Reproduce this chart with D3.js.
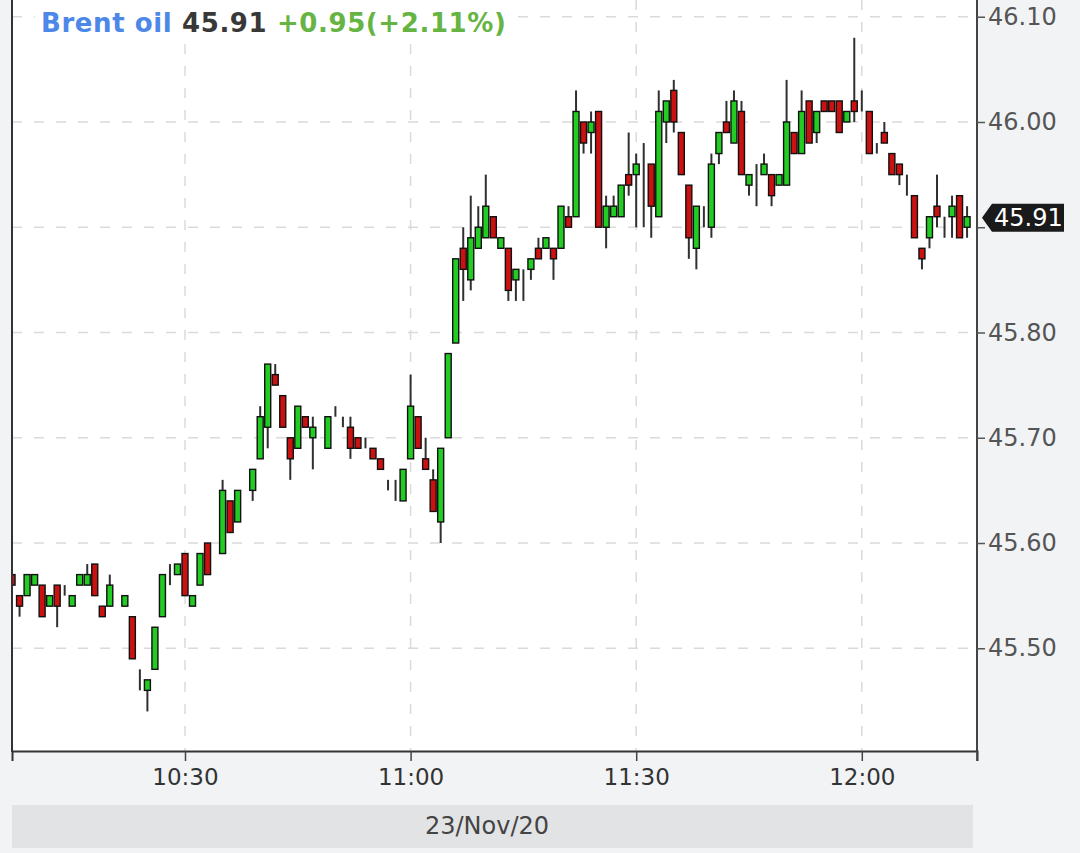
<!DOCTYPE html>
<html><head><meta charset="utf-8">
<script src="https://cdn.jsdelivr.net/npm/d3@7"></script>
<style>
html,body{margin:0;padding:0;background:#f2f3f5;}
svg{display:block;font-family:"DejaVu Sans",sans-serif;}
</style></head><body>
<svg id="chart" width="1080" height="853"></svg>
<script>
const times = ["10:07","10:08","10:09","10:10","10:11","10:12","10:13","10:14","10:15","10:16","10:17","10:18","10:19","10:20","10:21","10:22","10:23","10:24","10:25","10:26","10:27","10:28","10:29",
"10:30","10:31","10:32","10:33","10:34","10:35","10:36","10:37","10:38","10:39","10:40","10:41","10:42","10:43","10:44","10:45","10:46","10:47","10:48","10:49","10:50","10:51","10:52","10:53","10:54","10:55","10:56","10:57","10:58","10:59",
"11:00","11:01","11:02","11:03","11:04","11:05","11:06","11:07","11:08","11:09","11:10","11:11","11:12","11:13","11:14","11:15","11:16","11:17","11:18","11:19","11:20","11:21","11:22","11:23","11:24","11:25","11:26","11:27","11:28","11:29",
"11:30","11:31","11:32","11:33","11:34","11:35","11:36","11:37","11:38","11:39","11:40","11:41","11:42","11:43","11:44","11:45","11:46","11:47","11:48","11:49","11:50","11:51","11:52","11:53","11:54","11:55","11:56","11:57","11:58","11:59",
"12:00","12:01","12:02","12:03","12:04","12:05","12:06","12:07","12:08","12:09","12:10","12:11","12:12","12:13","12:14"];
const open = [45.57,45.55,45.55,45.56,45.56,45.54,45.56,45.55,45.54,45.56,45.56,45.58,45.54,45.54,45.55,45.54,45.53,45.48,45.46,45.48,45.53,45.56,45.57,
45.59,45.54,45.56,45.60,45.58,45.59,45.64,45.62,45.64,45.65,45.68,45.71,45.76,45.74,45.70,45.69,45.72,45.70,45.70,45.69,45.73,45.72,45.71,45.70,45.70,45.69,45.68,45.66,45.65,45.64,
45.68,45.72,45.68,45.66,45.62,45.70,45.79,45.88,45.85,45.88,45.89,45.91,45.88,45.88,45.85,45.85,45.86,45.88,45.88,45.88,45.88,45.91,45.91,46.00,45.99,46.01,45.90,45.91,45.91,45.95,
45.95,45.95,45.96,45.91,46.00,46.03,45.99,45.94,45.88,45.91,45.90,45.97,46.00,45.98,46.01,45.94,45.94,45.95,45.95,45.94,45.94,45.99,45.97,46.02,45.99,46.02,46.02,46.02,46.00,46.02,
46.02,46.01,45.98,45.99,45.97,45.96,45.94,45.93,45.88,45.89,45.92,45.90,45.91,45.93,45.90];
const high = [45.57,45.55,45.57,45.57,45.56,45.55,45.56,45.56,45.55,45.57,45.58,45.58,45.54,45.57,45.55,45.55,45.53,45.48,45.47,45.52,45.57,45.58,45.58,
45.59,45.55,45.59,45.60,45.58,45.66,45.64,45.65,45.64,45.67,45.73,45.77,45.77,45.74,45.70,45.73,45.72,45.72,45.70,45.72,45.73,45.72,45.72,45.70,45.70,45.69,45.68,45.66,45.66,45.67,
45.76,45.72,45.70,45.67,45.69,45.78,45.87,45.90,45.93,45.92,45.95,45.91,45.89,45.88,45.86,45.86,45.87,45.89,45.89,45.88,45.92,45.92,46.03,46.00,46.01,46.01,45.93,45.93,45.94,45.99,
45.97,45.98,45.96,46.03,46.02,46.04,45.99,45.94,45.92,45.92,45.97,45.99,46.02,46.03,46.02,45.95,45.96,45.97,45.95,45.95,46.04,45.99,46.03,46.02,46.01,46.02,46.02,46.02,46.01,46.08,
46.03,46.01,45.98,46.00,45.97,45.96,45.95,45.93,45.88,45.91,45.95,45.91,45.93,45.93,45.92];
const low = [45.56,45.53,45.55,45.56,45.53,45.54,45.52,45.55,45.54,45.56,45.56,45.55,45.53,45.54,45.55,45.54,45.49,45.46,45.44,45.48,45.53,45.56,45.57,
45.55,45.54,45.56,45.57,45.58,45.59,45.61,45.62,45.64,45.64,45.68,45.69,45.75,45.71,45.66,45.69,45.71,45.67,45.70,45.69,45.72,45.71,45.68,45.69,45.69,45.68,45.67,45.65,45.64,45.64,
45.68,45.69,45.67,45.63,45.60,45.70,45.79,45.83,45.84,45.88,45.89,45.89,45.88,45.83,45.83,45.83,45.85,45.87,45.88,45.85,45.88,45.90,45.91,45.97,45.97,45.90,45.88,45.91,45.91,45.93,
45.90,45.90,45.89,45.91,45.98,45.99,45.95,45.87,45.86,45.90,45.89,45.96,45.99,45.98,45.95,45.93,45.92,45.95,45.92,45.94,45.94,45.97,45.97,45.98,45.98,46.01,46.01,45.99,46.00,46.00,
46.01,45.97,45.97,45.98,45.95,45.94,45.93,45.89,45.86,45.88,45.90,45.89,45.89,45.89,45.89];
const close = [45.56,45.54,45.57,45.57,45.53,45.55,45.54,45.55,45.55,45.57,45.57,45.55,45.53,45.56,45.55,45.55,45.49,45.48,45.47,45.52,45.57,45.56,45.58,
45.55,45.55,45.59,45.57,45.58,45.65,45.61,45.65,45.64,45.67,45.72,45.77,45.75,45.71,45.68,45.73,45.71,45.71,45.70,45.72,45.73,45.72,45.69,45.69,45.70,45.68,45.67,45.66,45.65,45.67,
45.73,45.69,45.67,45.63,45.69,45.78,45.87,45.86,45.89,45.90,45.92,45.89,45.89,45.84,45.86,45.85,45.87,45.87,45.89,45.87,45.92,45.90,46.01,45.98,46.00,45.90,45.92,45.92,45.94,45.94,
45.96,45.95,45.92,46.01,46.02,46.00,45.95,45.89,45.92,45.91,45.96,45.99,45.99,46.02,45.95,45.95,45.94,45.96,45.93,45.95,46.00,45.97,46.01,45.98,46.01,46.01,46.01,45.99,46.01,46.01,
46.02,45.97,45.98,45.98,45.95,45.95,45.94,45.89,45.87,45.91,45.91,45.90,45.92,45.89,45.91];

const yTicks = [45.50, 45.60, 45.70, 45.80, 45.90, 46.00, 46.10];
const xTicks = ["10:30", "11:00", "11:30", "12:00"];
const dateLabel = "23/Nov/20";
const titleName = "Brent oil";
const titlePrice = "45.91";
const titleChange = "+0.95(+2.11%)";
const lastPrice = 45.91;

const parse = d3.timeParse("%H:%M");
const candles = times.map((t, i) => ({t: parse(t), o: open[i], h: high[i], l: low[i], c: close[i]}));

const svg = d3.select("#chart");
const L = 12, R = 977, T = 0, B = 751;
const t0 = parse("10:07");
const x = d3.scaleTime()
  .domain([new Date(t0.getTime() - 0.005 * 60000), new Date(t0.getTime() + 128.32 * 60000)])
  .range([L, R]);
const y = d3.scaleLinear().domain([45.4024, 46.1159]).range([B, T]);
const fmt = d3.format(".2f");

// plot background
svg.append("rect").attr("x", L).attr("y", T).attr("width", R - L).attr("height", B - T).attr("fill", "#ffffff");

// grid
const grid = svg.append("g");
grid.selectAll("line.h").data(yTicks).join("line")
  .attr("x1", L).attr("x2", R)
  .attr("y1", d => y(d)).attr("y2", d => y(d))
  .attr("stroke", "#dadada").attr("stroke-width", 1.5).attr("stroke-dasharray", "10,12");
grid.selectAll("line.v").data(xTicks).join("line")
  .attr("x1", d => x(parse(d))).attr("x2", d => x(parse(d)))
  .attr("y1", T).attr("y2", B)
  .attr("stroke", "#dadada").attr("stroke-width", 1.5).attr("stroke-dasharray", "10,12");

// header
const hdrBg = svg.append("rect").attr("fill", "#ffffff");
const hdr = svg.append("text").attr("x", 41).attr("y", 32)
  .attr("font-size", 26).attr("font-weight", "bold").attr("letter-spacing", 0.6);
hdr.append("tspan").attr("fill", "#4d88e8").text(titleName + " ");
hdr.append("tspan").attr("fill", "#383838").text(titlePrice + " ");
hdr.append("tspan").attr("fill", "#66b544").text(titleChange);
const bb = hdr.node().getBBox();
hdrBg.attr("x", bb.x - 6).attr("y", 0).attr("width", bb.width + 12).attr("height", 40);

// candles
svg.append("clipPath").attr("id", "clip").append("rect")
  .attr("x", L).attr("y", T).attr("width", R - L).attr("height", B - T);
const cg = svg.append("g").attr("clip-path", "url(#clip)");
const bw = 6;
cg.selectAll("line.wick").data(candles).join("line")
  .attr("class", "wick")
  .attr("x1", d => x(d.t)).attr("x2", d => x(d.t))
  .attr("y1", d => y(d.h)).attr("y2", d => y(d.l))
  .attr("stroke", "#303030").attr("stroke-width", 2);
cg.selectAll("rect.body").data(candles).join("rect")
  .attr("class", "body")
  .attr("x", d => x(d.t) - bw / 2)
  .attr("y", d => y(Math.max(d.o, d.c)))
  .attr("width", bw)
  .attr("height", d => Math.abs(y(d.o) - y(d.c)))
  .attr("fill", d => d.c > d.o ? "#22cc22" : (d.c < d.o ? "#cc1111" : "#222"))
  .attr("stroke", "#111").attr("stroke-width", 1.4);

// axes frame
svg.append("line").attr("x1", L).attr("x2", L).attr("y1", T).attr("y2", B + 1)
  .attr("stroke", "#333").attr("stroke-width", 2);
svg.append("line").attr("x1", R).attr("x2", R).attr("y1", T).attr("y2", B + 1)
  .attr("stroke", "#444").attr("stroke-width", 2);

// y axis (right); the label under the last-price marker is hidden by it
const yAxis = d3.axisRight(y).tickValues(yTicks)
  .tickFormat(d => Math.abs(d - lastPrice) < 0.03 ? "" : fmt(d))
  .tickSize(8).tickPadding(3);
const yg = svg.append("g").attr("transform", `translate(${R},0)`).call(yAxis);
yg.select(".domain").remove();
yg.selectAll(".tick line").attr("stroke", "#555").attr("stroke-width", 1.5);
yg.selectAll(".tick text").attr("fill", "#555").attr("font-size", 24)
  .attr("font-family", "DejaVu Sans");

// x axis (bottom)
const xAxis = d3.axisBottom(x).tickValues(xTicks.map(parse)).tickFormat(d3.timeFormat("%H:%M")).tickSize(10).tickPadding(8);
const xg = svg.append("g").attr("transform", `translate(0,${B})`).call(xAxis);
xg.select(".domain").attr("stroke", "#333").attr("stroke-width", 2);
xg.selectAll(".tick line").attr("stroke", "#444").attr("stroke-width", 1.5);
xg.selectAll(".tick text").attr("fill", "#333").attr("font-size", 23)
  .attr("font-family", "DejaVu Sans");
svg.append("line").attr("x1", R).attr("x2", R).attr("y1", B).attr("y2", B + 10)
  .attr("stroke", "#444").attr("stroke-width", 1.5);

// date band
svg.append("rect").attr("x", L).attr("y", 805).attr("width", 961).attr("height", 43).attr("fill", "#e2e3e5");
svg.append("text").attr("x", 487).attr("y", 826).attr("dy", "0.35em")
  .attr("text-anchor", "middle").attr("font-size", 24).attr("fill", "#444").text(dateLabel);

// last price marker
const ly = y(lastPrice);
const lg = svg.append("g");
lg.append("path")
  .attr("d", `M${R + 5},${ly + 1} L${R + 15},${ly - 13} L${R + 87},${ly - 13} L${R + 87},${ly + 15} L${R + 15},${ly + 15} Z`)
  .attr("fill", "#1a1a1a");
lg.append("text").attr("x", R + 17).attr("y", ly + 1).attr("dy", "0.35em")
  .attr("font-size", 24).attr("fill", "#ffffff").text(fmt(lastPrice));
</script>
</body></html>
